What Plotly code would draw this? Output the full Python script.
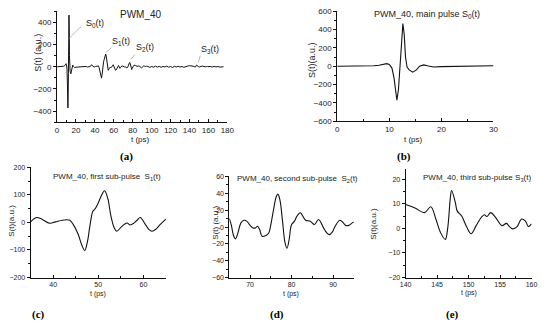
import plotly.graph_objects as go

# ---------------- data ----------------
# (b) main pulse S0(t), 0-30 ps
t_b = [0, 2, 4, 6, 7, 8, 8.5, 9, 9.5, 10.0, 10.5, 10.9, 11.2, 11.45, 11.75, 12.0, 12.3, 12.6,
       12.85, 13.1, 13.4, 13.8, 14.5, 15.2, 15.8, 16.6, 17.5, 18.5, 20, 22, 24, 26, 28, 30]
s_b = [0, 0, 0, 2, 5, 10, 15, 22, 28, 20, -20, -130, -280, -370, -250, -60, 200, 465,
       350, 100, -10, -40, -64, -40, 0, 15, 2, -8, -4, -2, 0, -2, 2, 6]

# (c) first sub-pulse S1(t), 35-65 ps
t_c = [35, 36.3, 37.5, 39.2, 40.5, 42, 43, 43.7, 44.4, 45.5, 46.3, 47, 47.6, 48.1, 48.8, 49.2,
       49.9, 50.7, 51.4, 52.1, 52.8, 53.5, 54.1, 55, 55.7, 56.4, 57, 57.8, 58.6, 59.3, 60.4,
       61.2, 61.9, 62.8, 63.7, 65]
s_c = [2, 18, 12, -3, 2, 8, 10, 8, -6, -41, -80, -102, -70, -18, 41, 47,
       67, 98, 115, 88, 24, -18, -32, -18, -8, -2, -9, -4, 8, 18, -6,
       -25, -32, -24, -8, 12]

# (d) second sub-pulse S2(t), 65-95 ps
t_d = [65, 65.5, 66, 66.5, 67, 67.8, 68.5, 69.2, 70, 70.7, 71.3, 71.8, 72.3, 72.9, 73.8, 74.5,
       75, 75.7, 76.3, 76.7, 77.2, 77.8, 78.4, 78.9, 79.4, 80, 80.7, 81.3, 82.1, 82.7, 83.4,
       84.5, 85.5, 86.5, 87.7, 88.5, 89.1, 89.8, 90.5, 91.6, 92.3, 93, 93.8, 94.6, 95]
s_d = [10, 2, -10, -14, -8, 5, 8, 7, 2, -1, -1, 1, -3, -11, -10, -7,
       3, 22, 36, 39, 32, 8, -18, -25, -15, 3, 7, 13, 17, 13, 8,
       7, 3, 9, -1, -7, -9, -6, 1, 8, 6, 2, 2, 5, 6]

# (e) third sub-pulse S3(t), 140-160 ps
t_e = [140, 141.4, 143, 144, 144.8, 145.5, 146.3, 146.7, 147.1, 147.3, 147.9, 148.2, 148.9,
       149.7, 150.4, 151.2, 152, 152.5, 152.9, 153.5, 154.3, 155.3, 156, 156.5, 157, 157.7,
       158.4, 159, 159.5, 160]
s_e = [9.7, 8.4, 6.4, 8.8, 3.8, -1.5, -4.5, 0.5, 12.4, 15.4, 10.4, 7, 5,
       0.5, -2.2, 1.1, 4.4, 5.5, 4.8, 6.4, 4.4, 1.1, 2, 0.7, -0.2, 0.7,
       3.8, 3, 0.7, 1.8]

# (a) gaps between the detailed windows
t_g1 = [31, 32, 33, 34]
s_g1 = [3, -2, 0, 2]
t_g2 = [96, 98, 100, 102, 104, 106, 108, 110, 112, 114, 116, 118, 120, 122, 124, 126, 128,
        130, 132, 134, 136, 138]
s_g2 = [3, -6, 2, -4, 5, -3, 4, -5, 3, -2, 6, -4, 2, -6, 4, -2, 5,
        -3, 3, -5, 4, 6]
t_g3 = [161, 162, 164, 166, 168, 170, 172, 174, 176]
s_g3 = [-2, 3, -3, 4, -2, 3, -3, 2, 0]

t_a = t_b + t_g1 + t_c + t_d[1:] + t_g2 + t_e + t_g3
s_a = s_b + s_g1 + s_c + s_d[1:] + s_g2 + s_e + s_g3

W, H = 550, 326
def px(x): return x / W
def py(y): return 1 - y / H

tickfont = dict(family="Liberation Sans, Arial", size=8, color="#222")
tickfont_s = dict(family="Liberation Sans, Arial", size=7, color="#222")

fig = go.Figure()
line = dict(color="#111", width=1.1)
fig.add_trace(go.Scatter(x=t_a, y=s_a, mode="lines", line=dict(color="#111", width=1), xaxis="x", yaxis="y"))
fig.add_trace(go.Scatter(x=t_b, y=s_b, mode="lines", line=line, xaxis="x2", yaxis="y2"))
fig.add_trace(go.Scatter(x=t_c, y=s_c, mode="lines", line=line, line_shape="spline", xaxis="x3", yaxis="y3"))
fig.add_trace(go.Scatter(x=t_d, y=s_d, mode="lines", line=line, line_shape="spline", xaxis="x4", yaxis="y4"))
fig.add_trace(go.Scatter(x=t_e, y=s_e, mode="lines", line=line, line_shape="spline", xaxis="x5", yaxis="y5"))

def ax(domain, rng, dtick, mdtick, anchor, font, tickdir):
    return dict(domain=domain, range=rng, dtick=dtick, tick0=0, anchor=anchor,
                showline=True, linecolor="#111", linewidth=1, ticks=tickdir, ticklen=3,
                tickwidth=1, tickcolor="#111", showgrid=False, zeroline=False,
                tickfont=font, fixedrange=True,
                minor=dict(dtick=mdtick, tick0=0, ticks=tickdir, ticklen=2, tickcolor="#111", showgrid=False))

# panel geometry (pixels)
panels = {
    "a": dict(x0=52.3, x1=226.7, y0=7.4, y1=121.7, xr=[0, 180], yr=[-500, 500], xd=20, xm=10, yd=200, ym=100),
    "b": dict(x0=339.3, x1=499.3, y0=7.3, y1=120.7, xr=[0, 30], yr=[-600, 600], xd=10, xm=5, yd=200, ym=100),
    "c": dict(x0=25.2, x1=163.8, y0=168, y1=281.3, xr=[35, 65], yr=[-200, 200], xd=10, xm=5, yd=100, ym=50),
    "d": dict(x0=228.75, x1=356.25, y0=177.3, y1=281.5, xr=[65, 95], yr=[-60, 60], xd=10, xm=5, yd=20, ym=10),
    "e": dict(x0=409.3, x1=538.3, y0=170, y1=281.3, xr=[140, 160], yr=[-20, 24], xd=5, xm=2.5, yd=10, ym=5),
}
layout = {}
for i, k in enumerate("abcde"):
    p = panels[k]
    n = "" if i == 0 else str(i + 1)
    f = tickfont if k in "ab" else tickfont_s
    layout["xaxis" + n] = ax([px(p["x0"]), px(p["x1"])], p["xr"], p["xd"], p["xm"], "y" + n, f, "inside")
    layout["yaxis" + n] = ax([py(p["y1"]), py(p["y0"])], p["yr"], p["yd"], p["ym"], "x" + n, f, "outside")

ann = []
def text(x, y, s, size=9, angle=0, family="Liberation Sans, Arial", color="#222"):
    ann.append(dict(x=px(x), y=py(y), xref="paper", yref="paper", text=s, showarrow=False,
                    textangle=angle, font=dict(family=family, size=size, color=color),
                    xanchor="center", yanchor="middle"))

# titles
text(138, 11, "PWM_40", 10)
text(431, 11, "PWM_40, main pulse S<sub>0</sub>(t)", 9)
text(103, 178, "PWM_40, first sub-pulse  S<sub>1</sub>(t)", 8)
text(299, 180, "PWM_40, second sub-pulse  S<sub>2</sub>(t)", 8)
text(482, 178.5, "PWM_40, third sub-pulse S<sub>3</sub>(t)", 8)
# y titles
text(32, 50, "S(t) (a.u.)", 9, -90)
text(314, 58, "S(t)(a.u.)", 9, -90)
text(6, 223, "S(t)(a.u.)", 8, -90)
text(215, 225, "S(t) (a.u.)", 8, -90)
text(377, 226, "S(t)(a.u.)", 8, -90)
# x titles
text(138, 139, "t (ps)", 8)
text(417, 139, "t (ps)", 8)
text(94, 298, "t (ps)", 7)
text(292, 298, "t (ps)", 7)
text(474, 297, "t (ps)", 7)
# panel letters
serif = "Liberation Serif, Times New Roman"
text(123, 157, "<b>(a)</b>", 11, family=serif, color="#000")
text(408, 157, "<b>(b)</b>", 11, family=serif, color="#000")
text(33, 319, "<b>(c)</b>", 11, family=serif, color="#000")
text(278, 319, "<b>(d)</b>", 11, family=serif, color="#000")
text(457, 319, "<b>(e)</b>", 11, family=serif, color="#000")

# labels in (a) with leader lines
shapes = []
for (x0, y0, x1, y1) in [(64, 36, 77, 23), (102, 50, 108, 45), (128, 57, 132, 52), (197, 60, 199, 53)]:
    shapes.append(dict(type="line", xref="paper", yref="paper", x0=px(x0), y0=py(y0),
                       x1=px(x1), y1=py(y1), line=dict(color="#999", width=0.7)))
for (x, y, s) in [(91, 20, "S<sub>0</sub>(t)"), (118, 39, "S<sub>1</sub>(t)"),
                  (142, 45, "S<sub>2</sub>(t)"), (209, 47, "S<sub>3</sub>(t)")]:
    text(x, y, s, 9)

fig.update_layout(width=W, height=H, margin=dict(l=0, r=0, t=0, b=0),
                  paper_bgcolor="white", plot_bgcolor="white", showlegend=False,
                  annotations=ann, shapes=shapes, **layout)
fig.write_html("out.html", config={"displayModeBar": False},
               post_script="document.body.style.margin='0';document.body.style.padding='0';")
